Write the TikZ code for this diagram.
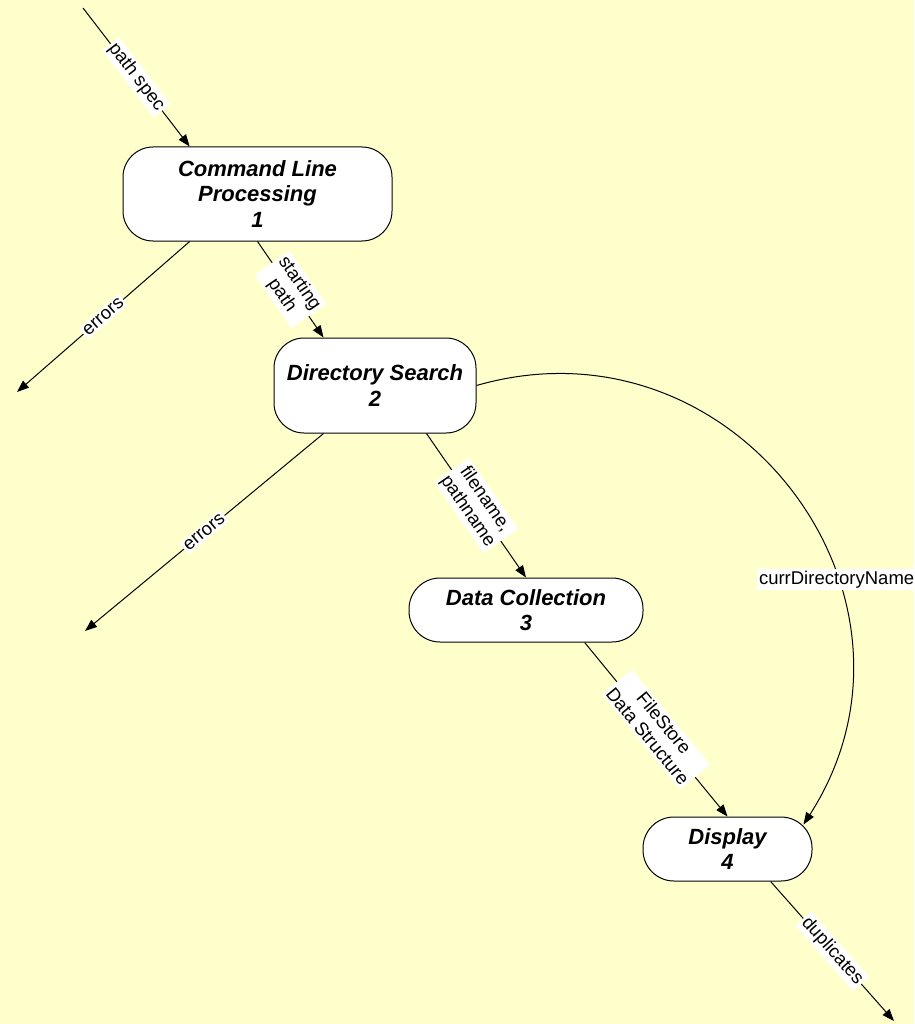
\documentclass[tikz,border=0pt]{standalone}
\usepackage{fontspec}
\setmainfont{Liberation Sans}
\usetikzlibrary{positioning, arrows.meta}
\definecolor{pagebg}{HTML}{FFFFCC}

\begin{document}
\begin{tikzpicture}[x=1pt, y=1pt, line width=1pt,
        process/.style={draw, fill=white, align=center, inner sep=0pt,
            font=\fontsize{22}{25.5}\selectfont\bfseries\itshape},
        flowline/.style={-{Triangle[length=12pt, width=9pt]}},
        flow/.style={fill=white, inner sep=2pt, align=center,
            font=\fontsize{18.5}{21}\selectfont}]
        \fill [pagebg] (0,0) rectangle (914,-1024);
        \useasboundingbox (0,0) rectangle (914,-1024);

        \node [process, rounded corners=30pt, minimum width=269pt, minimum height=94pt] (cmd) at (257.5,-194) {Command Line\\Processing\\1};
        \node [process, rounded corners=30pt, minimum width=202pt, minimum height=95pt, on grid, below right = 191.5pt and 117.5pt of cmd] (dir) {Directory Search\\2};
        \node [process, rounded corners=31pt, minimum width=234pt, minimum height=64pt, on grid, below right = 224.5pt and 151pt of dir] (col) {Data Collection\\3};
        \node [process, rounded corners=31pt, minimum width=169pt, minimum height=64pt, on grid, below right = 239pt and 201.5pt of col] (disp) {Display\\4};

        \coordinate (pathin) at (83,-8);
        \coordinate (err1) at (17,-392);
        \coordinate (err2) at (85,-631);
        \coordinate (dupout) at (894,-1021);

        \draw (pathin) edge[flowline] node[flow, sloped]{path spec} (cmd.145.5);
        \draw (cmd.215) edge[flowline] node[flow, sloped]{errors} (err1);
        \draw (cmd.south) edge[flowline] node[flow, sloped]{starting\\path} (dir.137);
        \draw (dir.223) edge[flowline] node[flow, sloped]{errors} (err2);
        \draw (dir.317) edge[flowline] node[flow, sloped]{filename,\\pathname} (col.north);
        \draw (col.331.5) edge[flowline] node[flow, sloped]{FileStore\\Data Structure} (disp.north);
        \draw (dir.east) edge[flowline, bend left=69.4, looseness=1.26] node[flow, pos=0.645]{currDirectoryName} ([xshift=-9pt, yshift=-8pt]disp.north east);
        \draw (disp.323) edge[flowline] node[flow, sloped]{duplicates} (dupout);
    \end{tikzpicture}
\end{document}
